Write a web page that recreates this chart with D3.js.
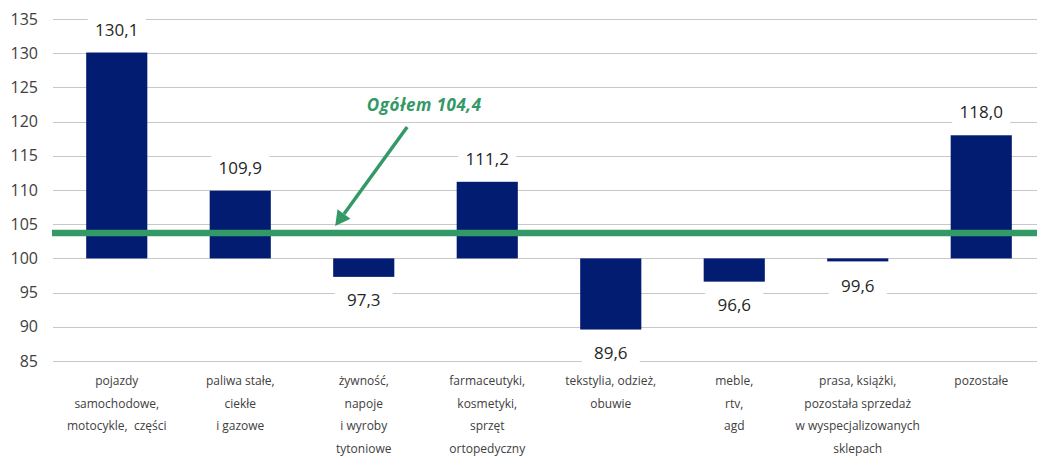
<!DOCTYPE html>
<html>
<head>
<meta charset="utf-8">
<script src="https://cdn.jsdelivr.net/npm/d3@7"></script>
<style>
	body { margin: 0; background: #fff; }
	svg { display: block; font-family: "Open Sans", "Noto Sans", sans-serif; }
	.cat tspan { white-space: pre; }
</style>
</head>
<body>
<svg id="chart" width="1037" height="459"></svg>
<script>
var categories = [
	["pojazdy", "samochodowe,", "motocykle,  części"],
	["paliwa stałe,", "ciekłe", "i gazowe"],
	["żywność,", "napoje", "i wyroby", "tytoniowe"],
	["farmaceutyki,", "kosmetyki,", "sprzęt", "ortopedyczny"],
	["tekstylia, odzież,", "obuwie"],
	["meble,", "rtv,", "agd"],
	["prasa, książki,", "pozostała sprzedaż", "w wyspecjalizowanych", "sklepach"],
	["pozostałe"]
];
var values = [130.1, 109.9, 97.3, 111.2, 89.6, 96.6, 99.6, 118.0];
var yTicks = [85, 90, 95, 100, 105, 110, 115, 120, 125, 130, 135];
var totalLabel = "Ogółem 104,4";
var totalLine = 103.7; // where the line sits in the picture

var svg = d3.select("#chart");
var width = 1037, height = 459;

var x = d3.scaleBand()
	.domain(d3.range(categories.length))
	.range([55, 1043])
	.paddingInner(0.505)
	.paddingOuter(0.2525);

var y = d3.scaleLinear()
	.domain([85, 135])
	.range([361, 19]);

var fmt = (v) => v.toFixed(1).replace(".", ",");

// grid
svg.append("g")
	.selectAll("line")
	.data(yTicks)
	.enter().append("line")
	.attr("x1", 53)
	.attr("x2", width)
	.attr("y1", (d) => Math.round(y(d)) + 0.5)
	.attr("y2", (d) => Math.round(y(d)) + 0.5)
	.style("stroke", "#c8c8c8")
	.style("stroke-width", 1);

// y tick labels
svg.append("g")
	.selectAll("text")
	.data(yTicks)
	.enter().append("text")
	.attr("x", 38)
	.attr("y", (d) => y(d))
	.attr("dy", "0.35em")
	.attr("text-anchor", "end")
	.style("font-size", "16px")
	.style("fill", "#404040")
	.text((d) => d);

// bars
svg.append("g")
	.selectAll("rect")
	.data(values)
	.enter().append("rect")
	.attr("x", (d, i) => x(i))
	.attr("width", x.bandwidth())
	.attr("y", (d) => y(Math.max(d, 100)))
	.attr("height", (d) => Math.max(Math.abs(y(d) - y(100)), 3))
	.style("fill", "#021c72");

// value labels with white boxes
var labels = svg.append("g")
	.selectAll("g")
	.data(values)
	.enter().append("g")
	.attr("transform", (d, i) => {
		var cy = d >= 100 ? y(d) - 23 : y(d) + 23;
		if (Math.abs(d - 100) < 1) cy = y(100) + 27;
		return "translate(" + (x(i) + x.bandwidth() / 2) + "," + cy + ")";
	});

labels.append("rect")
	.attr("x", -29)
	.attr("y", -12)
	.attr("width", 58)
	.attr("height", 24)
	.style("fill", "#fff");

labels.append("text")
	.attr("text-anchor", "middle")
	.attr("dy", "0.36em")
	.style("font-size", "17px")
	.style("fill", "#262626")
	.text(fmt);

// total line
svg.append("line")
	.attr("x1", 52)
	.attr("x2", width)
	.attr("y1", y(totalLine))
	.attr("y2", y(totalLine))
	.style("stroke", "#339966")
	.style("stroke-width", 6.5);

// annotation arrow
var tipX = x(2) + 2, tipY = y(totalLine) - 7;
var startX = tipX + 72, startY = tipY - 99;
var ang = Math.atan2(tipY - startY, tipX - startX);
var headLen = 15, headW = 8;
var bx = tipX - headLen * Math.cos(ang), by = tipY - headLen * Math.sin(ang);

svg.append("line")
	.attr("x1", startX)
	.attr("y1", startY)
	.attr("x2", bx)
	.attr("y2", by)
	.style("stroke", "#339966")
	.style("stroke-width", 3.5);

svg.append("path")
	.attr("d", "M" + tipX + "," + tipY +
		"L" + (bx + headW * Math.sin(ang)) + "," + (by - headW * Math.cos(ang)) +
		"L" + (bx - headW * Math.sin(ang)) + "," + (by + headW * Math.cos(ang)) + "Z")
	.style("fill", "#339966");

svg.append("text")
	.attr("x", startX + 17)
	.attr("y", startY - 16)
	.attr("text-anchor", "middle")
	.style("font-size", "17px")
	.style("font-weight", "bold")
	.style("font-style", "italic")
	.style("letter-spacing", "0.5px")
	.style("fill", "#339966")
	.text(totalLabel);

// category labels
var cat = svg.append("g")
	.attr("class", "cat")
	.selectAll("text")
	.data(categories)
	.enter().append("text")
	.attr("text-anchor", "middle")
	.attr("x", (d, i) => x(i) + x.bandwidth() / 2)
	.attr("y", 385)
	.style("font-size", "12px")
	.style("fill", "#404040");

cat.selectAll("tspan")
	.data((d) => d)
	.enter().append("tspan")
	.attr("x", function() { return this.parentNode.getAttribute("x"); })
	.attr("dy", (d, i) => i === 0 ? 0 : 22.5)
	.text((d) => d);
</script>
</body>
</html>
